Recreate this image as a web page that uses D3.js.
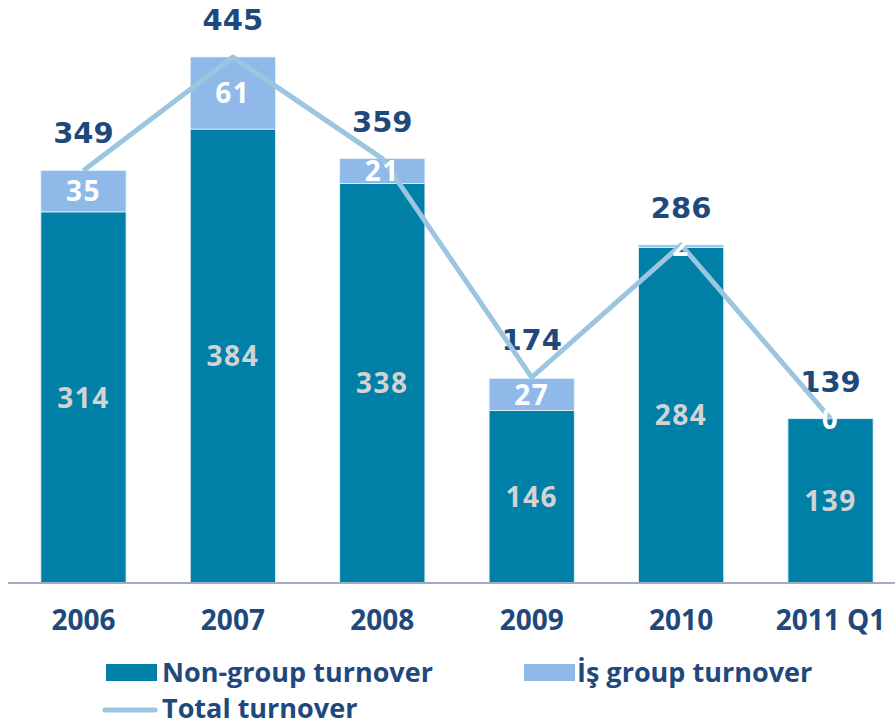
<!DOCTYPE html>
<html>
<head>
<meta charset="utf-8">
<script src="https://cdn.jsdelivr.net/npm/d3@7"></script>
<style>
  body { margin: 0; background: #fff; }
  svg text { font-family: "Open Sans", "Noto Sans", sans-serif; font-weight: bold; }
</style>
</head>
<body>
<svg id="chart"></svg>
<script>
// chart data
const years = ['2006', '2007', '2008', '2009', '2010', '2011 Q1'];
const nonGroup = [314, 384, 338, 146, 284, 139];
const isGroup = [35, 61, 21, 27, 2, 0];
const totals = [349, 445, 359, 174, 286, 139];

const colors = {
    nonGroup: '#007fa7',
    group: '#8eb9e8',
    line: '#9cc5df',
    dark: '#1f497d',
    segText: '#d3d3d3',
    axis: '#a3abc2'
};

const width = 895, height = 725;
const baseY = 583;

const svg = d3.select('#chart')
    .attr('width', width)
    .attr('height', height);

// scales
const xScale = d3.scaleBand()
    .domain(years)
    .range([11, 903])
    .paddingInner(0.43)
    .paddingOuter(0.2);

const yScale = d3.scaleLinear()
    .domain([0, 445])
    .range([baseY, 57]);

const rows = years.map((y, i) => ({ year: y, ng: nonGroup[i], g: isGroup[i], total: totals[i] }));

// bars
const bars = svg.append('g');
bars.selectAll('rect.ng')
    .data(rows)
    .enter()
    .append('rect')
        .attr('class', 'ng')
        .attr('x', d => xScale(d.year))
        .attr('width', xScale.bandwidth())
        .attr('y', d => yScale(d.ng))
        .attr('height', d => baseY - yScale(d.ng))
        .attr('fill', colors.nonGroup)
        .attr('stroke', '#e4f0fa')
        .attr('stroke-width', 0.8);

bars.selectAll('rect.g')
    .data(rows)
    .enter()
    .append('rect')
        .attr('class', 'g')
        .attr('x', d => xScale(d.year))
        .attr('width', xScale.bandwidth())
        .attr('y', d => yScale(d.ng + d.g))
        .attr('height', d => yScale(d.ng) - yScale(d.ng + d.g))
        .attr('fill', colors.group)
        .attr('stroke', '#e4f0fa')
        .attr('stroke-width', 0.8);

// axis line
svg.append('line')
    .attr('x1', 8).attr('x2', 895)
    .attr('y1', baseY).attr('y2', baseY)
    .attr('stroke', colors.axis)
    .attr('stroke-width', 2);

const xAxis = d3.axisBottom(xScale).tickSize(0).tickPadding(0);
const axisG = svg.append('g')
    .attr('transform', `translate(0, ${baseY})`)
    .call(xAxis);
axisG.select('.domain').remove();
axisG.selectAll('text')
    .attr('dy', null)
    .attr('y', 47)
    .attr('fill', colors.dark)
    .style('font-size', '28px');

// total labels
svg.append('g').selectAll('text')
    .data(rows)
    .enter()
    .append('text')
        .attr('x', d => xScale(d.year) + xScale.bandwidth() / 2)
        .attr('y', d => yScale(d.total) - 27)
        .attr('text-anchor', 'middle')
        .attr('fill', colors.dark)
        .style('font-family', '"DejaVu Sans", sans-serif')
        .style('font-size', '29px')
        .text(d => d.total);

// total line
const line = d3.line()
    .x(d => xScale(d.year) + xScale.bandwidth() / 2)
    .y(d => yScale(d.total));

svg.append('path')
    .datum(rows)
    .attr('d', line)
    .attr('fill', 'none')
    .attr('stroke', colors.line)
    .attr('stroke-width', 5)
    .attr('stroke-linejoin', 'round');

// segment labels
const seg = svg.append('g');
seg.selectAll('text.ng')
    .data(rows)
    .enter()
    .append('text')
        .attr('x', d => xScale(d.year) + xScale.bandwidth() / 2)
        .attr('y', d => (yScale(d.ng) + baseY) / 2)
        .attr('dy', '0.36em')
        .attr('text-anchor', 'middle')
        .attr('fill', colors.segText)
        .style('font-size', '28px')
        .style('letter-spacing', '1.5px')
        .text(d => d.ng);

seg.selectAll('text.g')
    .data(rows)
    .enter()
    .append('text')
        .attr('x', d => xScale(d.year) + xScale.bandwidth() / 2)
        .attr('y', d => (yScale(d.ng) + yScale(d.ng + d.g)) / 2)
        .attr('dy', '0.36em')
        .attr('text-anchor', 'middle')
        .attr('fill', '#ffffff')
        .style('font-size', '28px')
        .style('letter-spacing', '1.5px')
        .text(d => d.g);

// legend
const legend = svg.append('g');
legend.append('rect')
    .attr('x', 106).attr('y', 664).attr('width', 51).attr('height', 17)
    .attr('fill', colors.nonGroup);
legend.append('text')
    .attr('x', 162).attr('y', 682)
    .attr('fill', colors.dark)
    .style('font-size', '27px')
    .text('Non-group turnover');
legend.append('rect')
    .attr('x', 524).attr('y', 664).attr('width', 51).attr('height', 17)
    .attr('fill', colors.group);
legend.append('text')
    .attr('x', 577).attr('y', 682)
    .attr('fill', colors.dark)
    .style('font-size', '27px')
    .text('İş group turnover');
legend.append('line')
    .attr('x1', 105).attr('x2', 155)
    .attr('y1', 710).attr('y2', 710)
    .attr('stroke', colors.line)
    .attr('stroke-width', 5)
    .attr('stroke-linecap', 'round');
legend.append('text')
    .attr('x', 162).attr('y', 718)
    .attr('fill', colors.dark)
    .style('font-size', '27px')
    .text('Total turnover');
</script>
</body>
</html>
